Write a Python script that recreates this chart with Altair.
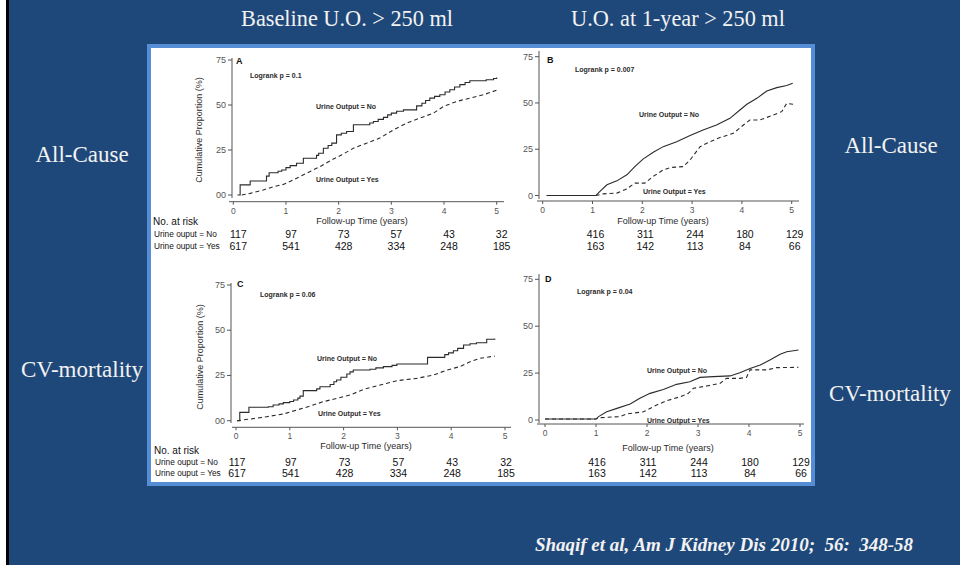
import altair as alt
import pandas as pd

NAVY = "#1F487A"
FRAME = "#558ED5"
INK = "#2b2b2b"
AXIS = "#555555"
LIGHT = "#F2F2F2"
SANS = "Liberation Sans"
SERIF = "Liberation Serif"

# ---- Kaplan-Meier curves: follow-up time (years) and cumulative proportion (%) ----
# A: all-cause, baseline urine output
a_no_t = [0.08, 0.13, 0.32, 0.63, 0.68, 0.85, 0.92, 1.0, 1.08, 1.2, 1.33, 1.58, 1.62, 1.71, 1.8,
          1.87, 1.96, 2.05, 2.15, 2.28, 2.59, 2.66, 2.75, 2.85, 2.93, 3.0, 3.1, 3.23, 3.48, 3.58,
          3.65, 3.73, 3.82, 3.92, 4.02, 4.11, 4.2, 4.3, 4.4, 4.49, 4.8, 4.94, 5.0]
a_no_p = [0, 5.6, 7.8, 10.5, 12.4, 13.2, 13.9, 15.2, 16.3, 17.6, 20.4, 22.0, 23.2, 26.0, 27.5,
          28.8, 33.4, 34.3, 35.3, 39.0, 40.0, 40.8, 42.0, 43.1, 44.5, 45.5, 46.5, 47.3, 49.5, 51.0,
          52.5, 53.8, 54.8, 55.7, 57.2, 58.5, 60.0, 61.3, 62.5, 63.5, 64.0, 64.7, 65.3]
a_yes_t = [0.16, 0.32, 0.57, 0.76, 0.95, 1.14, 1.39, 1.65, 1.87, 2.06, 2.28, 2.53, 2.78, 3.04,
           3.29, 3.54, 3.8, 3.99, 4.24, 4.49, 4.75, 5.03]
a_yes_p = [0, 0.9, 2.8, 4.6, 5.9, 8.4, 12.1, 15.8, 19.5, 22.3, 26.0, 28.8, 31.6, 36.2,
           39.9, 42.7, 45.5, 49.2, 52.0, 53.8, 55.7, 58.5]

# B: all-cause, urine output at 1 year
b_no_t = [0.08, 1.07, 1.15, 1.29, 1.49, 1.69, 1.85, 2.02, 2.22, 2.42, 2.69, 2.96, 3.22, 3.49,
          3.76, 3.96, 4.1, 4.3, 4.5, 4.7, 4.9, 5.02]
b_no_p = [0, 0, 2.2, 5.8, 7.9, 11.2, 15.6, 19.8, 23.4, 26.4, 29.1, 32.4, 35.4, 38.1,
          41.7, 46.2, 49.3, 52.5, 56.5, 58.3, 59.4, 60.6]
b_yes_t = [0.08, 1.07, 1.22, 1.49, 1.69, 1.85, 2.05, 2.22, 2.42, 2.56, 2.82, 2.96, 3.16, 3.36,
           3.56, 3.83, 4.03, 4.16, 4.36, 4.63, 4.8, 4.9, 5.03]
b_yes_p = [0, 0, 0.9, 1.3, 3.6, 6.7, 6.7, 10.3, 13.8, 15.1, 15.6, 19.2, 26.4, 29.1,
           31.3, 33.6, 38.1, 40.8, 40.8, 43.5, 45.3, 49.8, 49.3]

# C: CV mortality, baseline urine output
c_no_t = [0.02, 0.07, 0.24, 0.6, 0.69, 0.8, 0.88, 1.0, 1.07, 1.15, 1.19, 1.25, 1.5, 1.56, 1.75,
          1.82, 1.87, 1.95, 2.06, 2.12, 2.18, 2.49, 2.6, 2.74, 2.9, 2.99, 3.56, 3.88, 3.95, 4.04,
          4.12, 4.23, 4.35, 4.47, 4.66, 4.81]
c_no_p = [0, 4.6, 7.4, 7.7, 8.7, 9.3, 10.0, 10.6, 11.4, 12.5, 13.6, 16.6, 17.6, 18.8, 20.0,
          21.5, 22.5, 24.0, 25.8, 27.0, 28.0, 28.4, 29.2, 29.9, 30.6, 31.3, 35.0, 36.5, 37.5, 38.7,
          40.0, 41.8, 42.5, 43.1, 45.0, 45.5]
c_yes_t = [0.02, 0.26, 0.57, 0.88, 1.13, 1.38, 1.62, 1.87, 2.12, 2.37, 2.68, 2.99, 3.36, 3.67,
           3.92, 4.16, 4.35, 4.54, 4.81]
c_yes_p = [0, 0.9, 2.2, 3.7, 5.9, 8.1, 10.5, 12.3, 14.2, 17.3, 19.7, 22.1, 23.4, 25.2,
           28.0, 29.9, 32.6, 34.5, 35.7]

# D: CV mortality, urine output at 1 year
d_no_t = [0.0, 1.0, 1.05, 1.21, 1.41, 1.67, 1.86, 2.06, 2.32, 2.58, 2.84, 3.04, 3.3, 3.63,
          3.82, 4.02, 4.22, 4.41, 4.61, 4.74, 4.97]
d_no_p = [0.5, 0.5, 1.8, 4.4, 6.2, 8.5, 11.6, 14.2, 16.3, 19.0, 20.4, 22.7, 23.1, 23.5,
          25.2, 27.5, 29.3, 32.0, 35.0, 36.4, 37.3]
d_yes_t = [0.0, 1.0, 1.05, 1.47, 1.6, 1.93, 2.03, 2.19, 2.39, 2.65, 2.81, 2.91, 3.17, 3.43,
           3.56, 3.82, 3.95, 4.02, 4.35, 4.54, 4.97]
d_yes_p = [0.5, 0.5, 1.2, 1.8, 3.2, 4.4, 5.7, 8.0, 10.3, 12.4, 14.2, 16.9, 18.1, 19.5,
           22.2, 22.2, 22.7, 26.7, 26.7, 27.9, 28.1]

# ---- numbers at risk ----
risk_years_base = [0, 1, 2, 3, 4, 5]
risk_base_no = [117, 97, 73, 57, 43, 32]
risk_base_yes = [617, 541, 428, 334, 248, 185]
risk_years_1y = [1, 2, 3, 4, 5]
risk_1y_no = [416, 311, 244, 180, 129]
risk_1y_yes = [163, 142, 113, 84, 66]

# ---- axis ticks ----
y_ticks = [0, 25, 50, 75]
y_labels_base = ["00", "25", "50", "75"]
y_labels_1y = ["0", "25", "50", "75"]
x_ticks = [0, 1, 2, 3, 4, 5]

ONE = pd.DataFrame({"k": [0]})
NBSP = "\u00a0"


def txt(text, x, y, size, align="left", weight="normal", color=INK, font=SANS,
        angle=0, style="normal"):
    return alt.Chart(ONE).mark_text(
        text=text, align=align, baseline="middle", fontSize=size, fontWeight=weight,
        fontStyle=style, color=color, font=font, angle=angle,
    ).encode(x=alt.value(x), y=alt.value(y))


def km_panel(g, no_t, no_p, yes_t, yes_p, no_interp, letter, logrank, ylabels,
             risk_t, risk_no, risk_yes, base_layout):
    xs = alt.Scale(domain=[0, 5], range=[g["x0"], g["x5"]], nice=False, zero=False)
    ys = alt.Scale(domain=[0, 75], range=[g["y0"], g["y75"]], nice=False, zero=False)

    def xe(f):
        return alt.X(f, type="quantitative", scale=xs, axis=None)

    def ye(f):
        return alt.Y(f, type="quantitative", scale=ys, axis=None)

    yes_line = alt.Chart(pd.DataFrame({"t": yes_t, "p": yes_p})).mark_line(
        interpolate="linear", color=INK, strokeWidth=1.1, strokeDash=[4, 3]
    ).encode(x=xe("t"), y=ye("p"))
    no_line = alt.Chart(pd.DataFrame({"t": no_t, "p": no_p})).mark_line(
        interpolate=no_interp, color=INK, strokeWidth=1.1
    ).encode(x=xe("t"), y=ye("p"))

    # y axis
    ydom = alt.Chart(ONE).mark_rule(color=AXIS, strokeWidth=1).encode(
        x=alt.value(g["ax"]), y=alt.value(g["ay_top"]), y2=alt.value(g["ay_bot"]))
    ytick_df = pd.DataFrame({"v": y_ticks, "lab": ylabels})
    ytk = alt.Chart(ytick_df).mark_rule(color=AXIS, strokeWidth=1).encode(
        y=ye("v"), x=alt.value(g["ax"] - 4), x2=alt.value(g["ax"]))
    ytl = alt.Chart(ytick_df).mark_text(
        align="right", baseline="middle", fontSize=9, font=SANS, color=AXIS
    ).encode(y=ye("v"), x=alt.value(g["ax"] - 6), text="lab:N")

    # x axis
    xdom = alt.Chart(ONE).mark_rule(color=AXIS, strokeWidth=1).encode(
        x=alt.value(g["xl"]), x2=alt.value(g["xr"]), y=alt.value(g["xy"]))
    xtick_df = pd.DataFrame({"v": x_ticks})
    xtk = alt.Chart(xtick_df).mark_rule(color=AXIS, strokeWidth=1).encode(
        x=xe("v"), y=alt.value(g["xy"]), y2=alt.value(g["xy"] + 3))
    xtl = alt.Chart(xtick_df).mark_text(
        align="center", baseline="middle", fontSize=8.5, font=SANS, color=AXIS
    ).encode(x=xe("v"), y=alt.value(g["xy"] + 9), text="v:Q")

    # numbers at risk
    risk_df = pd.DataFrame({"t": risk_t, "no": [str(v) for v in risk_no],
                            "yes": [str(v) for v in risk_yes]})
    rno = alt.Chart(risk_df).mark_text(
        align="center", baseline="middle", fontSize=10.5, font=SANS, color="#111", dx=g["rdx"]
    ).encode(x=xe("t"), y=alt.value(g["r1"]), text="no:N")
    ryes = alt.Chart(risk_df).mark_text(
        align="center", baseline="middle", fontSize=10.5, font=SANS, color="#111", dx=g["rdx"]
    ).encode(x=xe("t"), y=alt.value(g["r2"]), text="yes:N")

    layers = [ydom, ytk, ytl, xdom, xtk, xtl, yes_line, no_line, rno, ryes,
              txt(letter, g["lx"], g["ly"], 9, weight="bold", color="#111"),
              txt(logrank, g["gx"], g["gy"], 7, weight="bold"),
              txt("Urine Output = No", g["nx"], g["ny"], 7, weight="bold"),
              txt("Urine Output = Yes", g["yx"], g["yy"], 7, weight="bold"),
              txt("Follow-up Time (years)", g["tx"], g["ty"], 9, align="center")]
    if base_layout:
        layers += [
            txt("Cumulative Proportion (%)", g["vx"], g["vy"], 9, align="center", angle=270),
            txt("No. at risk", g["hx"], g["h0"], 10, color="#111"),
            txt("Urine ouput = No", g["hx"] + 1, g["r1"], 8.3, color="#111"),
            txt("Urine ouput = Yes", g["hx"] + 1, g["r2"], 8.3, color="#111"),
        ]
    return alt.layer(*layers)


GA = dict(x0=233.3, x5=496.7, y0=195, y75=60, ax=232, ay_top=58, ay_bot=198,
          xy=201.7, xl=229, xr=504, rdx=5, r1=235, r2=247,
          lx=236, ly=61, gx=250, gy=76, nx=316, ny=107, yx=316, yy=180,
          tx=362, ty=220.5, vx=199, vy=130, hx=153, h0=222)
GB = dict(x0=542.7, x5=791.7, y0=195.5, y75=56.7, ax=539, ay_top=51, ay_bot=199,
          xy=201, xl=537, xr=799, rdx=3, r1=235, r2=246.7,
          lx=547, ly=60, gx=575, gy=70, nx=639, ny=115, yx=643, yy=192,
          tx=663, ty=220.5)
GC = dict(x0=236, x5=505, y0=420.7, y75=285, ax=231, ay_top=283, ay_bot=423,
          xy=427.3, xl=232, xr=511, rdx=1, r1=463, r2=474,
          lx=237, ly=284, gx=260, gy=295, nx=317, ny=359, yx=318, yy=414,
          tx=366, ty=446, vx=200, vy=357, hx=154, h0=451)
GD = dict(x0=545, x5=800, y0=420, y75=279.3, ax=539, ay_top=274, ay_bot=423,
          xy=424, xl=537, xr=804, rdx=1, r1=462.7, r2=474.3,
          lx=545, ly=279, gx=577, gy=292, nx=647, ny=371, yx=647, yy=421,
          tx=668, ty=447.7)

panel_a = km_panel(GA, a_no_t, a_no_p, a_yes_t, a_yes_p, "step-after", "A", "Logrank p = 0.1",
                   y_labels_base, risk_years_base, risk_base_no, risk_base_yes, True)
panel_b = km_panel(GB, b_no_t, b_no_p, b_yes_t, b_yes_p, "linear", "B", "Logrank p = 0.007",
                   y_labels_1y, risk_years_1y, risk_1y_no, risk_1y_yes, False)
panel_c = km_panel(GC, c_no_t, c_no_p, c_yes_t, c_yes_p, "step-after", "C", "Logrank p = 0.06",
                   y_labels_base, risk_years_base, risk_base_no, risk_base_yes, True)
panel_d = km_panel(GD, d_no_t, d_no_p, d_yes_t, d_yes_p, "linear", "D", "Logrank p = 0.04",
                   y_labels_1y, risk_years_1y, risk_1y_no, risk_1y_yes, False)

# ---- slide frame and captions ----
edge_white = alt.Chart(ONE).mark_rect(color="white").encode(
    x=alt.value(0), x2=alt.value(6), y=alt.value(0), y2=alt.value(565))
edge_black = alt.Chart(ONE).mark_rect(color="black").encode(
    x=alt.value(6), x2=alt.value(9), y=alt.value(0), y2=alt.value(565))
card = alt.Chart(ONE).mark_rect(fill="white", stroke=FRAME, strokeWidth=4).encode(
    x=alt.value(149), x2=alt.value(813), y=alt.value(46), y2=alt.value(484))

citation = f"Shaqif et al, Am J Kidney Dis 2010;{NBSP}{NBSP}56:{NBSP}{NBSP}348-58"

captions = [
    txt("Baseline U.O. > 250 ml", 347, 19, 22.3, align="center", color=LIGHT, font=SERIF),
    txt("U.O. at 1-year > 250 ml", 678, 19, 22.3, align="center", color=LIGHT, font=SERIF),
    txt("All-Cause", 82, 155, 23, align="center", color=LIGHT, font=SERIF),
    txt("All-Cause", 891, 146, 23, align="center", color=LIGHT, font=SERIF),
    txt("CV-mortality", 82, 370, 23, align="center", color=LIGHT, font=SERIF),
    txt("CV-mortality", 890, 394, 23, align="center", color=LIGHT, font=SERIF),
    txt(citation, 724, 545, 19, align="center",
        weight="bold", style="italic", color=LIGHT, font=SERIF),
]

chart = alt.layer(
    edge_white, edge_black, card, *captions, panel_a, panel_b, panel_c, panel_d
).resolve_scale(
    x="independent", y="independent"
).properties(
    width=960, height=565, padding=0, background=NAVY,
    autosize=alt.AutoSizeParams(type="none"),
).configure_view(stroke=None)

chart.save("out.html", embed_options={"renderer": "svg", "actions": False})
